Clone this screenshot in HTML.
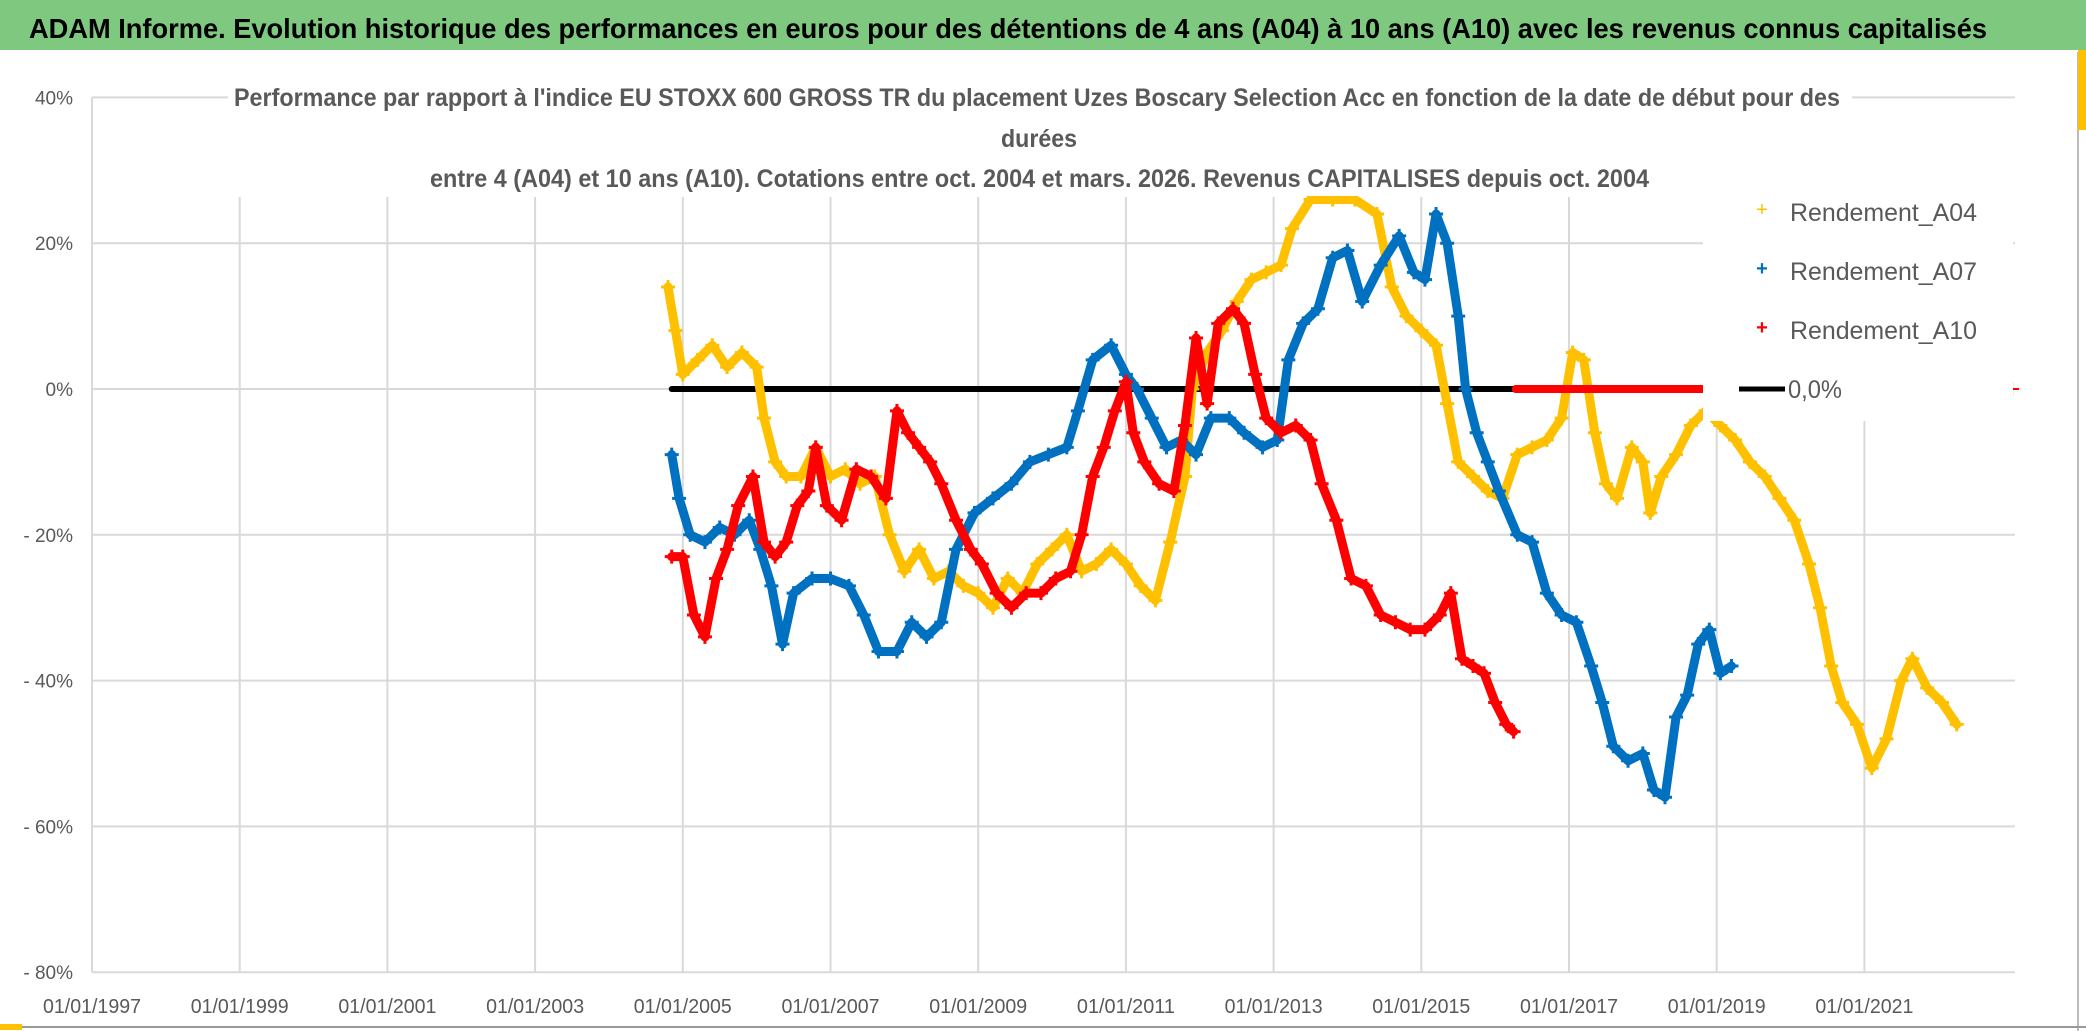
<!DOCTYPE html>
<html><head><meta charset="utf-8"><style>
html,body{margin:0;padding:0;background:#fff;}
svg{display:block;font-family:"Liberation Sans",sans-serif;}
</style></head><body>
<svg id="chart" width="2086" height="1031" viewBox="0 0 2086 1031" xmlns="http://www.w3.org/2000/svg">
<rect x="0" y="0" width="2086" height="1031" fill="#fff"/>
<rect x="0" y="0" width="2086" height="50" fill="#7EC880"/>
<text x="29" y="38" font-size="28" font-weight="bold" fill="#000" textLength="1958" lengthAdjust="spacingAndGlyphs">ADAM Informe. Evolution historique des performances en euros pour des détentions de 4 ans (A04) à 10 ans (A10) avec les revenus connus capitalisés</text>
<line x1="2078" y1="52" x2="2078" y2="1031" stroke="#bbb" stroke-width="2"/>
<line x1="0" y1="1027" x2="2086" y2="1027" stroke="#999" stroke-width="2"/>
<rect x="0" y="1024" width="22" height="6" fill="#FFC000"/>
<rect x="2078" y="50" width="8" height="80" fill="#FFC000"/>
<g id="grid"></g>
<g id="series"></g>
<rect x="228" y="82" width="1624" height="114" fill="#fff"/>
<text x="234" y="106" font-size="25" font-weight="bold" fill="#595959" textLength="1606" lengthAdjust="spacingAndGlyphs">Performance par rapport à l'indice EU STOXX 600 GROSS TR  du placement Uzes Boscary Selection Acc en fonction de la date de début pour des</text>
<text x="1039" y="147" font-size="25" font-weight="bold" fill="#595959" text-anchor="middle" textLength="76" lengthAdjust="spacingAndGlyphs">durées</text>
<text x="430" y="187" font-size="25" font-weight="bold" fill="#595959" textLength="1219" lengthAdjust="spacingAndGlyphs">entre 4 (A04) et 10 ans (A10). Cotations entre oct. 2004 et mars. 2026. Revenus CAPITALISES depuis oct. 2004</text>
<g id="legend">
<rect x="1703" y="182" width="310" height="239" fill="#fff"/>
<text x="1762" y="216" font-size="20" fill="#FFC000" text-anchor="middle">+</text>
<text x="1790" y="221" font-size="25" fill="#595959" textLength="187" lengthAdjust="spacingAndGlyphs">Rendement_A04</text>
<text x="1762" y="275" font-size="20" font-weight="bold" fill="#0070C0" text-anchor="middle">+</text>
<text x="1790" y="280" font-size="25" fill="#595959" textLength="187" lengthAdjust="spacingAndGlyphs">Rendement_A07</text>
<text x="1762" y="334" font-size="20" font-weight="bold" fill="#FF0000" text-anchor="middle">+</text>
<text x="1790" y="339" font-size="25" fill="#595959" textLength="187" lengthAdjust="spacingAndGlyphs">Rendement_A10</text>
<line x1="1739" y1="389" x2="1785" y2="389" stroke="#000" stroke-width="5"/>
<text x="1788" y="398" font-size="25" fill="#595959" textLength="54" lengthAdjust="spacingAndGlyphs">0,0%</text>
</g>
<g id="axes"></g>
</svg>
<script>
const yTicks = [40, 20, 0, -20, -40, -60, -80];
const yTickLabels = ["40%", "20%", "0%", "- 20%", "- 40%", "- 60%", "- 80%"];
const xTickYears = [1997, 1999, 2001, 2003, 2005, 2007, 2009, 2011, 2013, 2015, 2017, 2019, 2021];
const xTickLabels = ["01/01/1997","01/01/1999","01/01/2001","01/01/2003","01/01/2005","01/01/2007","01/01/2009","01/01/2011","01/01/2013","01/01/2015","01/01/2017","01/01/2019","01/01/2021"];

const a04Dates = [2004.8,2004.9,2005.0,2005.2,2005.4,2005.6,2005.8,2006.0,2006.1,2006.25,2006.4,2006.6,2006.8,2007.0,2007.2,2007.4,2007.6,2007.8,2008.0,2008.2,2008.4,2008.6,2008.8,2009.0,2009.2,2009.4,2009.6,2009.8,2010.0,2010.2,2010.4,2010.6,2010.8,2011.0,2011.2,2011.4,2011.6,2011.8,2011.9,2012.1,2012.3,2012.5,2012.7,2012.9,2013.1,2013.25,2013.5,2013.8,2014.1,2014.4,2014.6,2014.8,2015.0,2015.2,2015.35,2015.5,2015.7,2015.9,2016.1,2016.3,2016.5,2016.7,2016.9,2017.05,2017.2,2017.35,2017.5,2017.65,2017.85,2018.0,2018.1,2018.25,2018.45,2018.65,2018.85,2019.05,2019.25,2019.45,2019.65,2019.85,2020.05,2020.25,2020.4,2020.55,2020.7,2020.9,2021.1,2021.3,2021.5,2021.65,2021.85,2022.05,2022.25];
const a04Values = [14,8,2,4,6,3,5,3,-4,-10,-12,-12,-8,-12,-11,-13,-12,-20,-25,-22,-26,-25,-27,-28,-30,-26,-28,-24,-22,-20,-25,-24,-22,-24,-27,-29,-21,-12,0,5,8,12,15,16,17,22,26,26,26,24,14,10,8,6,-2,-10,-12,-14,-15,-9,-8,-7,-4,5,4,-6,-13,-15,-8,-10,-17,-12,-9,-5,-3,-5,-7,-10,-12,-15,-18,-24,-30,-38,-43,-46,-52,-48,-40,-37,-41,-43,-46];

const a07Dates = [2004.85,2004.95,2005.1,2005.3,2005.5,2005.7,2005.9,2006.05,2006.2,2006.35,2006.5,2006.75,2007.0,2007.25,2007.45,2007.65,2007.9,2008.1,2008.3,2008.5,2008.7,2008.95,2009.2,2009.45,2009.7,2009.95,2010.2,2010.35,2010.55,2010.8,2011.0,2011.15,2011.35,2011.55,2011.75,2011.95,2012.15,2012.4,2012.6,2012.85,2013.05,2013.2,2013.4,2013.6,2013.8,2014.0,2014.2,2014.45,2014.7,2014.9,2015.05,2015.2,2015.35,2015.5,2015.6,2015.75,2015.9,2016.05,2016.3,2016.5,2016.7,2016.9,2017.1,2017.3,2017.45,2017.6,2017.8,2018.0,2018.15,2018.3,2018.45,2018.6,2018.75,2018.9,2019.05,2019.2];
const a07Values = [-9,-15,-20,-21,-19,-20,-18,-22,-27,-35,-28,-26,-26,-27,-31,-36,-36,-32,-34,-32,-22,-17,-15,-13,-10,-9,-8,-3,4,6,2,0,-4,-8,-7,-9,-4,-4,-6,-8,-7,4,9,11,18,19,12,17,21,16,15,24,20,10,0,-6,-10,-14,-20,-21,-28,-31,-32,-38,-43,-49,-51,-50,-55,-56,-45,-42,-35,-33,-39,-38];

const a10Dates = [2004.85,2005.0,2005.15,2005.3,2005.45,2005.6,2005.75,2005.95,2006.1,2006.25,2006.4,2006.55,2006.7,2006.8,2006.95,2007.15,2007.35,2007.55,2007.75,2007.9,2008.05,2008.2,2008.35,2008.5,2008.7,2008.9,2009.05,2009.25,2009.45,2009.65,2009.85,2010.05,2010.25,2010.4,2010.55,2010.7,2010.85,2011.0,2011.1,2011.25,2011.45,2011.65,2011.8,2011.95,2012.1,2012.25,2012.45,2012.6,2012.75,2012.9,2013.1,2013.3,2013.5,2013.65,2013.85,2014.05,2014.25,2014.45,2014.65,2014.85,2015.05,2015.25,2015.4,2015.55,2015.7,2015.85,2016.0,2016.15,2016.25];
const a10Values = [-23,-23,-31,-34,-26,-22,-16,-12,-21,-23,-21,-16,-14,-8,-16,-18,-11,-12,-15,-3,-6,-8,-10,-13,-18,-22,-24,-28,-30,-28,-28,-26,-25,-20,-12,-8,-3,1,-6,-10,-13,-14,-5,7,-2,9,11,9,2,-4,-6,-5,-7,-13,-18,-26,-27,-31,-32,-33,-33,-31,-28,-37,-38,-39,-43,-46,-47];

const zeroRefDates = [2004.85, 2016.28];
const zeroRefValues = [0, 0];
const a10ZeroDates = [2016.28, 2019.0];
const a10ZeroValues = [0, 0];
const a10TailDates = [2023.0];
const a10TailValues = [0];

const NS = "http://www.w3.org/2000/svg";
const X0 = 92, PER_YEAR = 73.85, Y0 = 389, PER_PCT = 7.29;
function xScale(yr){ return X0 + (yr - 1997) * PER_YEAR; }
function yScale(v){ return Y0 - v * PER_PCT; }
function mk(tag, attrs, parent){ const e = document.createElementNS(NS, tag); for (const k in attrs) e.setAttribute(k, attrs[k]); parent.appendChild(e); return e; }

const grid = document.getElementById('grid');
const axes = document.getElementById('axes');
const series = document.getElementById('series');
const plotRight = 2015;

yTicks.forEach((v, i) => {
  const l = mk('line', {x1: X0, x2: plotRight, y1: yScale(v), y2: yScale(v), stroke: '#d9d9d9', 'stroke-width': 2}, grid);
  
  
  const t = mk('text', {x: 73, y: yScale(v) + 7, 'font-size': 19, fill: '#595959', 'text-anchor': 'end'}, axes);
  t.textContent = yTickLabels[i];
  
  
});
xTickYears.forEach((yr, i) => {
  const x = xScale(yr);
  const l = mk('line', {x1: x, x2: x, y1: i === 0 ? yScale(40) : 197, y2: yScale(-80), stroke: '#d9d9d9', 'stroke-width': 2}, grid);
  
  
  const t = mk('text', {x: x, y: 1013, 'font-size': 20, fill: '#595959', 'text-anchor': 'middle', textLength: 98, lengthAdjust: 'spacingAndGlyphs'}, axes);
  t.textContent = xTickLabels[i];
  
  
});

function drawLine(dates, vals, color, w, name){
  const pts = dates.map((d, i) => xScale(d) + ',' + yScale(vals[i])).join(' ');
  const p = mk('polyline', {points: pts, fill: 'none', stroke: color, 'stroke-width': w, 'stroke-linejoin': 'round', 'stroke-linecap': 'round'}, series);
  
  
}
function drawScatter(dates, vals, color, name, sw){
  drawLine(dates, vals, color, 9, name + '-trace');
  const g = mk('g', {stroke: color, 'stroke-width': sw}, series);
  
  
  dates.forEach((d, i) => {
    const x = xScale(d), y = yScale(vals[i]);
    const p = mk('path', {d: `M${x-7},${y}H${x+7}M${x},${y-7}V${y+7}`}, g);
    
    
  });
}
drawLine(zeroRefDates, zeroRefValues, '#000', 6, 'zero-reference-line');
drawScatter(a04Dates, a04Values, '#FFC000', 'series-a04', 3);
drawScatter(a07Dates, a07Values, '#0070C0', 'series-a07', 3);
drawScatter(a10Dates, a10Values, '#FF0000', 'series-a10', 3);
drawLine(a10ZeroDates, a10ZeroValues, '#FF0000', 8, 'series-a10-zero-segment');
drawScatter(a10TailDates, a10TailValues, '#FF0000', 'series-a10-tail', 2);
</script>
</body></html>
